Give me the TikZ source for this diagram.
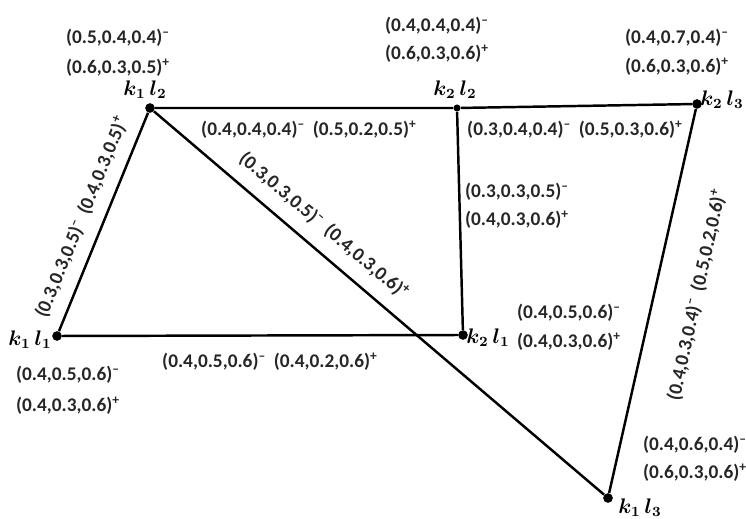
\documentclass[tikz,border=0pt]{standalone}
\usepackage{amsmath}
\usepackage{fontspec}
\setmainfont{Carlito}

% value triples with their sign
\newcommand{\negv}[1]{(#1)\textsuperscript{--}}
\newcommand{\posv}[1]{(#1)\textsuperscript{+}}
\newcommand{\vname}[2]{$\boldsymbol{k_{#1}\,l_{#2}}$}

\begin{document}
\begin{tikzpicture}[
  dot/.style={circle, fill=black, inner sep=0pt, minimum size=5.5pt},
  seg/.style={black, line width=1.4pt},
  val/.style={font=\fontsize{11}{13}\selectfont\bfseries, text=black!85, inner sep=1pt},
  vlab/.style={font=\large, inner sep=1pt}]

\useasboundingbox (0,0) rectangle (14.92,10.36);

% Vertices
\node[dot] (k1l2) at (3.00,8.20) {};
\node[dot, minimum size=4pt] (k2l2) at (9.14,8.20) {};
\node[dot] (k2l3) at (13.94,8.28) {};
\node[dot] (k1l1) at (1.14,3.64) {};
\node[dot] (k2l1) at (9.26,3.66) {};
\node[dot] (k1l3) at (12.16,0.40) {};

% Edges
\draw[seg] (k1l2) -- (k2l2) -- (k2l3);
\draw[seg] (k1l2) -- (k1l1) -- (k2l1);
\draw[seg] (k2l2) -- (k2l1);
\draw[seg] (k1l2) -- (k1l3);
\draw[seg] (k2l3) -- (k1l3);

% Vertex names
\node[vlab] (n12) at (2.90,8.56) {\vname{1}{2}};
\node[vlab] (n22) at (9.10,8.56) {\vname{2}{2}};
\node[vlab] (n23) at (14.44,8.36) {\vname{2}{3}};
\node[vlab] (n11) at (0.60,3.56) {\vname{1}{1}};
\node[vlab] (n21) at (9.76,3.60) {\vname{2}{1}};
\node[vlab] (n13) at (12.80,0.20) {\vname{1}{3}};

% Vertex values
\node[val] (a12) at (2.36,9.60) {\negv{0.5,0.4,0.4}};
\node[val] (b12) at (2.36,9.00) {\posv{0.6,0.3,0.5}};
\node[val] (a22) at (8.74,9.84) {\negv{0.4,0.4,0.4}};
\node[val] (b22) at (8.74,9.28) {\posv{0.6,0.3,0.6}};
\node[val] (a23) at (13.54,9.60) {\negv{0.4,0.7,0.4}};
\node[val] (b23) at (13.54,9.02) {\posv{0.6,0.3,0.6}};
\node[val] (a11) at (1.36,2.86) {\negv{0.4,0.5,0.6}};
\node[val] (b11) at (1.36,2.24) {\posv{0.4,0.3,0.6}};
\node[val] (a21) at (11.38,4.10) {\negv{0.4,0.5,0.6}};
\node[val] (b21) at (11.38,3.52) {\posv{0.4,0.3,0.6}};
\node[val] (a13) at (13.90,1.46) {\negv{0.4,0.6,0.4}};
\node[val] (b13) at (13.90,0.90) {\posv{0.6,0.3,0.6}};

% Edge values
\node[val] (e1) at (6.18,7.76) {\negv{0.4,0.4,0.4}\hspace{0.4em}\posv{0.5,0.2,0.5}};
\node[val] (e2) at (11.50,7.76) {\negv{0.3,0.4,0.4}\hspace{0.4em}\posv{0.5,0.3,0.6}};
\node[val] (e3) at (10.34,6.52) {\negv{0.3,0.3,0.5}};
\node[val] (e4) at (10.34,5.96) {\posv{0.4,0.3,0.6}};
\node[val] (e5) at (5.40,3.12) {\negv{0.4,0.5,0.6}\hspace{0.4em}\posv{0.4,0.2,0.6}};
\node[val, rotate=67.7] (e6) at (1.64,6.02) {\negv{0.3,0.3,0.5}\hspace{0.4em}\posv{0.4,0.3,0.5}};
\node[val, rotate=-40.3] (e7) at (6.48,5.84) {\negv{0.3,0.3,0.5}\hspace{0.4em}\posv{0.4,0.3,0.6}};
\node[val, rotate=77.6] (e8) at (13.94,4.46) {\negv{0.4,0.3,0.4}\hspace{0.4em}\posv{0.5,0.2,0.6}};

\end{tikzpicture}
\end{document}
